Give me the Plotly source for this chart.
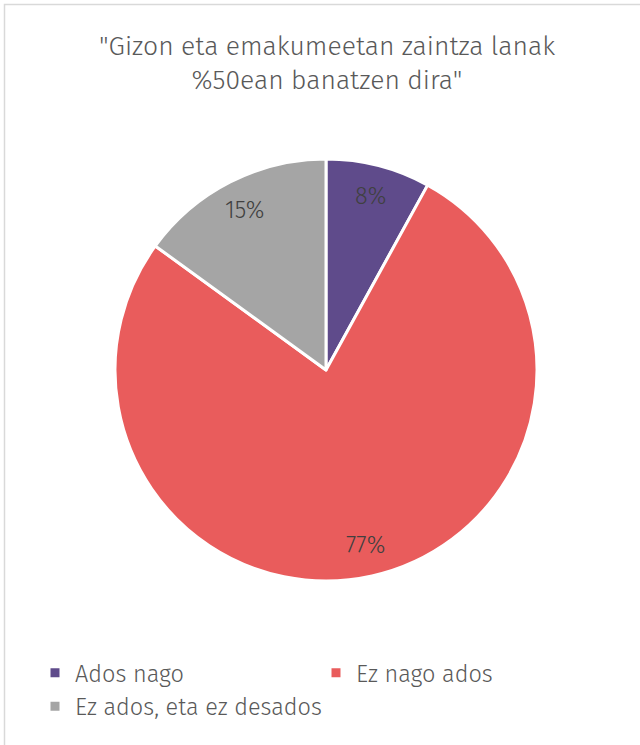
import math
import plotly.graph_objects as go

labels = ["Ados nago", "Ez nago ados", "Ez ados, eta ez desados"]
values = [8, 77, 15]
colors = ["#5F4B8B", "#E95C5C", "#A5A5A5"]
title_text = "\"Gizon eta emakumeetan zaintza lanak<br>%50ean banatzen dira\""

W, H = 640, 745
FONT = "Fira Sans, Open Sans, sans-serif"
cx, cy, r = 326, 370, 211

fig = go.Figure(go.Pie(
    labels=labels,
    values=values,
    sort=False,
    direction="clockwise",
    rotation=0,
    marker=dict(colors=colors, line=dict(color="white", width=3)),
    textinfo="none",
    domain=dict(x=[(cx - r) / W, (cx + r) / W], y=[1 - (cy + r) / H, 1 - (cy - r) / H]),
    hoverinfo="label+percent",
))

# percentage labels placed at the mid-angle of each slice
total = sum(values)
annotations = []
acc = 0
for v in values:
    mid = (acc + v / 2) / total * 2 * math.pi
    acc += v
    px = cx + 0.85 * r * math.sin(mid)
    py = cy - 0.85 * r * math.cos(mid)
    annotations.append(dict(
        x=px / W, y=1 - py / H, xref="paper", yref="paper",
        xanchor="center", yanchor="middle",
        text=f"{round(v / total * 100)}%", showarrow=False,
        font=dict(family=FONT, size=23.5, color="#404040", weight=300),
    ))

fig.update_layout(
    width=W, height=H,
    margin=dict(l=0, r=0, t=0, b=0),
    paper_bgcolor="white",
    font=dict(family=FONT, color="#595959", weight=300),
    title=dict(text=title_text, x=327 / W, xanchor="center", y=1 - 55 / H, yanchor="middle",
               font=dict(family=FONT, size=26.5, color="#595959", weight=300)),
    showlegend=True,
    legend=dict(orientation="h", x=35 / W, xanchor="left", y=1 - 651 / H, yanchor="top",
                entrywidth=236, entrywidthmode="pixels",
                font=dict(family=FONT, size=23.5, color="#595959", weight=300)),
    annotations=annotations,
    shapes=[dict(type="rect", xref="paper", yref="paper",
                 x0=4.5 / W, x1=1.02, y0=-0.02, y1=1 - 4.5 / H,
                 line=dict(color="#D9D9D9", width=1.5), layer="below")],
)

fig.write_html("out.html",
               config={"displayModeBar": False},
               post_script="document.body.style.margin='0';document.body.style.padding='0';")
